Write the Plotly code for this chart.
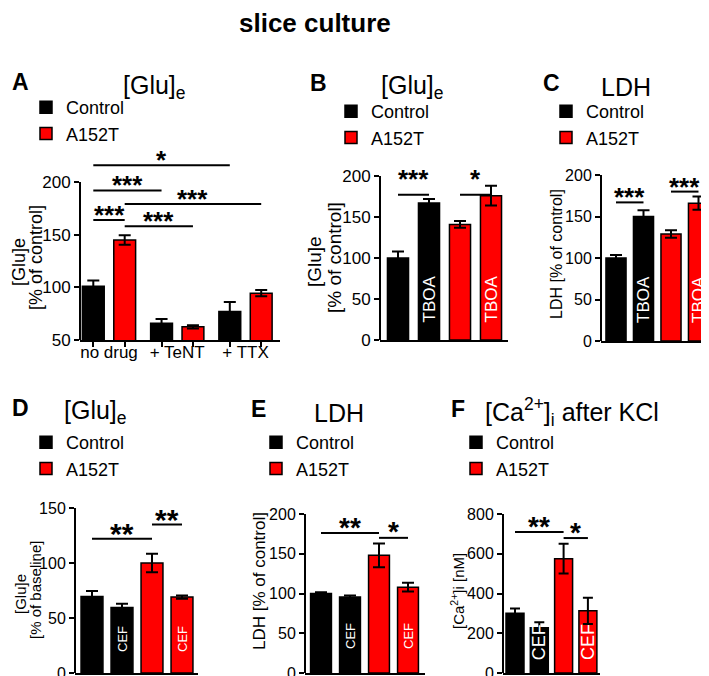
import plotly.graph_objects as go

W, H = 709, 676
FONT = "Liberation Sans, Arial, Helvetica, sans-serif"
RED = "#ff0000"
BLACK = "#000000"

# ---------------- data ----------------
# Panel A  ([Glu]e, slice culture, drugs)
a_groups = ["no drug", "+ TeNT", "+ TTX"]
a_control = [101, 66, 77]
a_control_err = [5.5, 4, 9]
a_a152t = [145, 62.5, 94.5]
a_a152t_err = [4.5, 1.5, 3]
a_sig_from = [0, 0, 1, 0, 1]
a_sig_to = [4, 2, 5, 1, 3]
a_sig_y = [216, 192, 179, 164, 158]
a_sig_text = ["*", "***", "***", "***", "***"]

# Panel B  ([Glu]e, TBOA)
b_control = [100, 167]
b_control_err = [8, 5]
b_a152t = [141, 176]
b_a152t_err = [4, 12]
b_bar_text = ["", "TBOA", "", "TBOA"]
b_sig_from = [0, 2]
b_sig_to = [1, 3]
b_sig_y = [177, 177]
b_sig_text = ["***", "*"]

# Panel C  (LDH, TBOA)
c_control = [100, 150]
c_control_err = [3.5, 7.5]
c_a152t = [129, 166]
c_a152t_err = [4.5, 8]
c_bar_text = ["", "TBOA", "", "TBOA"]
c_sig_from = [0, 2]
c_sig_to = [1, 3]
c_sig_y = [167, 180]
c_sig_text = ["***", "***"]

# Panel D  ([Glu]e, CEF)
d_control = [69.5, 59.5]
d_control_err = [5, 3.5]
d_a152t = [100, 69]
d_a152t_err = [8.5, 1.5]
d_bar_text = ["", "CEF", "", "CEF"]
d_sig_from = [0, 2]
d_sig_to = [2, 3]
d_sig_y = [122, 135]
d_sig_text = ["**", "**"]

# Panel E  (LDH, CEF)
e_control = [100, 95.5]
e_control_err = [1.5, 2]
e_a152t = [148, 108]
e_a152t_err = [15, 5.5]
e_bar_text = ["", "CEF", "", "CEF"]
e_sig_from = [0, 2]
e_sig_to = [2, 3]
e_sig_y = [176, 170]
e_sig_text = ["**", "*"]

# Panel F  ([Ca2+]i after KCl, CEF)
f_control = [300, 228]
f_control_err = [25, 27]
f_a152t = [575, 313]
f_a152t_err = [75, 66]
f_bar_text = ["", "CEF", "", "CEF"]
f_sig_from = [0, 2]
f_sig_to = [2, 3]
f_sig_y = [709, 679]
f_sig_text = ["**", "*"]

# ---------------- layout helpers ----------------
fig = go.Figure()
shapes, annots = [], []


def px_x(p):
    return p / W


def px_y(p):
    return 1 - p / H


panels = [
    dict(key="A", letter="A", title="[Glu]<sub>e</sub>",
         ytitles=[("[Glu]e", 11, 254), ("[% of control]", 28, 250)], ytitle_size=18,
         tick_size=17,
         left=72, right=272, c0=101, sp=68.25, bw=0.32,
         ybot=332, ppu=1.0533, yr=(50, 228), ticks=[50, 100, 150, 200],
         letter_xy=(12, 74), title_xy=(146, 79),
         legend_xy=(65, 107), star_size=26, star_shift=5, cap=6),
    dict(key="B", letter="B", title="[Glu]<sub>e</sub>",
         ytitles=[("[Glu]e", 306, 254), ("[% of control]", 326, 250)], ytitle_size=19,
         tick_size=17,
         left=372, right=500, c0=390, sp=31, bw=0.68,
         ybot=332, ppu=0.82, yr=(0, 230), ticks=[0, 50, 100, 150, 200],
         letter_xy=(310, 75), title_xy=(404, 79),
         legend_xy=(370, 111), star_size=26, star_shift=16, cap=6,
         label_size=17, label_shift=15),
    dict(key="C", letter="C", title="LDH",
         ytitles=[("LDH [% of control]", 549, 246)], ytitle_size=16,
         tick_size=16,
         left=593, right=704, c0=608, sp=27.5, bw=0.73,
         ybot=333, ppu=0.83, yr=(0, 230), ticks=[0, 50, 100, 150, 200],
         letter_xy=(543, 75), title_xy=(618, 79),
         legend_xy=(585, 111), star_size=26, star_shift=5, cap=6,
         label_size=17, label_shift=16),
    dict(key="D", letter="D", title="[Glu]<sub>e</sub>",
         ytitles=[("[Glu]e", 12, 586), ("[% of baseline]", 27, 582)], ytitle_size=15,
         tick_size=16,
         left=67, right=190, c0=84, sp=30, bw=0.73,
         ybot=665, ppu=1.1, yr=(0, 160), ticks=[0, 50, 100, 150],
         letter_xy=(12, 400), title_xy=(87, 404),
         legend_xy=(65, 442), star_size=30, star_shift=5, cap=6,
         label_size=13, label_shift=19),
    dict(key="E", letter="E", title="LDH",
         ytitles=[("LDH [% of control]", 251, 573)], ytitle_size=17,
         tick_size=16,
         left=297, right=417, c0=313, sp=29, bw=0.72,
         ybot=665, ppu=0.795, yr=(0, 220), ticks=[0, 50, 100, 150, 200],
         letter_xy=(250, 401), title_xy=(331, 405),
         legend_xy=(295, 442), star_size=28, star_shift=6, cap=6,
         label_size=13, label_shift=22),
    dict(key="F", letter="F", title="[Ca<sup>2+</sup>]<sub>i</sub> after KCl",
         ytitles=[("[Ca<sup>2+</sup>]i [nM]", 449, 583)], ytitle_size=15,
         tick_size=16,
         left=495, right=592, c0=507, sp=24.3, bw=0.74,
         ybot=665, ppu=0.19875, yr=(0, 880), ticks=[0, 200, 400, 600, 800],
         letter_xy=(450, 401), title_xy=(564, 404),
         legend_xy=(495, 442), star_size=28, star_shift=6, cap=5,
         label_size=18, label_shift=11),
]

panel_data = {
    "A": (a_control, a_control_err, a_a152t, a_a152t_err, None,
          a_sig_from, a_sig_to, a_sig_y, a_sig_text),
    "B": (b_control, b_control_err, b_a152t, b_a152t_err, b_bar_text,
          b_sig_from, b_sig_to, b_sig_y, b_sig_text),
    "C": (c_control, c_control_err, c_a152t, c_a152t_err, c_bar_text,
          c_sig_from, c_sig_to, c_sig_y, c_sig_text),
    "D": (d_control, d_control_err, d_a152t, d_a152t_err, d_bar_text,
          d_sig_from, d_sig_to, d_sig_y, d_sig_text),
    "E": (e_control, e_control_err, e_a152t, e_a152t_err, e_bar_text,
          e_sig_from, e_sig_to, e_sig_y, e_sig_text),
    "F": (f_control, f_control_err, f_a152t, f_a152t_err, f_bar_text,
          f_sig_from, f_sig_to, f_sig_y, f_sig_text),
}

layout_axes = {}
legends = {}

for n, p in enumerate(panels, start=1):
    ctrl, ctrl_err, mut, mut_err, bar_text, s_from, s_to, s_y, s_txt = panel_data[p["key"]]
    xname = "x" if n == 1 else f"x{n}"
    yname = "y" if n == 1 else f"y{n}"
    xkey = "xaxis" if n == 1 else f"xaxis{n}"
    ykey = "yaxis" if n == 1 else f"yaxis{n}"
    lkey = "legend" if n == 1 else f"legend{n}"

    # bar positions
    if p["key"] == "A":
        ctrl_x = [g - 0.23 for g in range(len(ctrl))]
        mut_x = [g + 0.23 for g in range(len(mut))]
        all_x = []
        for g in range(len(ctrl)):
            all_x += [ctrl_x[g], mut_x[g]]
    else:
        ctrl_x = list(range(len(ctrl)))
        mut_x = [len(ctrl) + i for i in range(len(mut))]
        all_x = ctrl_x + mut_x

    common = dict(xaxis=xname, yaxis=yname, width=p["bw"], legend=lkey)
    fig.add_trace(go.Bar(
        x=ctrl_x, y=ctrl, name="Control",
        marker=dict(color=BLACK, line=dict(color=BLACK, width=1.5)),
        error_y=dict(type="data", array=ctrl_err, color=BLACK, thickness=2, width=p["cap"]),
        **common))
    fig.add_trace(go.Bar(
        x=mut_x, y=mut, name="A152T",
        marker=dict(color=RED, line=dict(color=BLACK, width=1.5)),
        error_y=dict(type="data", array=mut_err, color=BLACK, thickness=2, width=p["cap"]),
        **common))

    # axes
    ybot_paper = px_y(p["ybot"])
    ytop_px = p["ybot"] - (p["yr"][1] - p["yr"][0]) * p["ppu"]
    xr = [(p["left"] - p["c0"]) / p["sp"], (p["right"] - p["c0"]) / p["sp"]]
    xa = dict(domain=[px_x(p["left"]), px_x(p["right"])], range=xr,
              showline=True, linecolor=BLACK, linewidth=2, showgrid=False,
              zeroline=False, anchor=yname, fixedrange=True, automargin=False)
    if p["key"] == "A":
        xa.update(tickmode="array", tickvals=list(range(len(a_groups))), ticktext=a_groups,
                  ticks="", ticklabelstandoff=-4,
                  tickfont=dict(size=17, color=BLACK, family=FONT),
                  minor=dict(tickmode="array", tickvals=all_x, ticks="outside",
                             ticklen=5, tickwidth=2, tickcolor=BLACK))
    else:
        xa.update(showticklabels=False, ticks="")
    ya = dict(domain=[ybot_paper, px_y(ytop_px)], range=list(p["yr"]),
              showline=False, showgrid=False, zeroline=False, anchor=xname,
              tickmode="array", tickvals=p["ticks"], ticks="outside", ticklen=5,
              tickwidth=2, tickcolor=BLACK, automargin=False,
              tickfont=dict(size=p["tick_size"], color=BLACK, family=FONT),
              fixedrange=True)
    layout_axes[xkey] = xa
    layout_axes[ykey] = ya

    # y-axis titles (rotated)
    for txt, tx_px, ty_px in p["ytitles"]:
        annots.append(dict(x=px_x(tx_px), y=px_y(ty_px), xref="paper", yref="paper", text=txt,
                           textangle=-90, showarrow=False, xanchor="center", yanchor="middle",
                           font=dict(size=p["ytitle_size"], color=BLACK, family=FONT)))

    # y-axis line up to last tick
    shapes.append(dict(type="line", xref=f"{xname} domain", yref=yname,
                       x0=0, x1=0, y0=p["yr"][0], y1=p["ticks"][-1],
                       line=dict(color=BLACK, width=2)))

    # significance bars
    for i, j, yv, t in zip(s_from, s_to, s_y, s_txt):
        shapes.append(dict(type="line", xref=xname, yref=yname,
                           x0=all_x[i], x1=all_x[j], y0=yv, y1=yv,
                           line=dict(color=BLACK, width=2)))
        annots.append(dict(x=(all_x[i] + all_x[j]) / 2, y=yv, xref=xname, yref=yname,
                           text=t, showarrow=False, yanchor="middle", yshift=p["star_shift"],
                           font=dict(size=p["star_size"], color=BLACK, family=FONT, weight="bold")))

    # rotated labels inside bars
    if bar_text:
        for xv, t in zip(all_x, bar_text):
            if t:
                annots.append(dict(x=xv, y=p["yr"][0], xref=xname, yref=yname, text=t,
                                   textangle=-90, showarrow=False, yanchor="bottom",
                                   yshift=p["label_shift"],
                                   font=dict(size=p["label_size"], color="white", family=FONT)))

    # panel letter and title
    lx, ly = p["letter_xy"]
    annots.append(dict(x=px_x(lx), y=px_y(ly), xref="paper", yref="paper", text=p["letter"],
                       showarrow=False, xanchor="center", yanchor="middle",
                       font=dict(size=23, color=BLACK, family=FONT, weight="bold")))
    tx, ty = p["title_xy"]
    annots.append(dict(x=px_x(tx), y=px_y(ty), xref="paper", yref="paper", text=p["title"],
                       showarrow=False, xanchor="center", yanchor="middle",
                       font=dict(size=25, color=BLACK, family=FONT)))

    # legend
    gx, gy = p["legend_xy"]
    legends[lkey] = dict(x=px_x(gx - 47), y=px_y(gy - 26), xanchor="left", yanchor="top",
                         bgcolor="rgba(0,0,0,0)", borderwidth=0, tracegroupgap=0,
                         font=dict(size=18, color=BLACK, family=FONT), traceorder="normal")

# overall title
annots.append(dict(x=px_x(307), y=px_y(15), xref="paper", yref="paper", text="slice culture",
                   showarrow=False, xanchor="center", yanchor="middle",
                   font=dict(size=26, color=BLACK, family=FONT, weight="bold")))

fig.update_layout(
    width=W, height=H, margin=dict(l=0, r=0, t=0, b=0, autoexpand=False),
    paper_bgcolor="white", plot_bgcolor="white",
    font=dict(family=FONT, color=BLACK),
    barmode="overlay", showlegend=True,
    shapes=shapes, annotations=annots,
    **layout_axes, **legends,
)

fig.write_html("out.html")
